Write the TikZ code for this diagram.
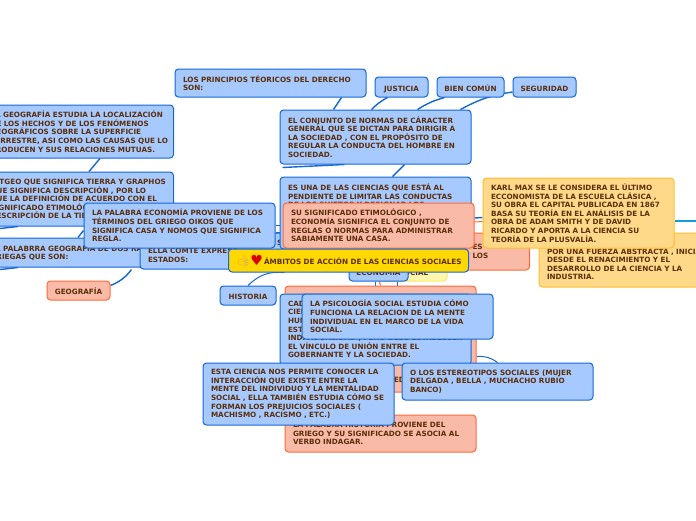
\documentclass[tikz,border=0pt]{standalone}
\usepackage{fontspec}
\setmainfont{DejaVu Sans}
\newfontfamily\emojifont{Noto Emoji}
\usetikzlibrary{backgrounds}
\definecolor{tinta}{HTML}{5C2E0A}
\definecolor{azul}{HTML}{A6CAFF}
\definecolor{azulb}{HTML}{1566D6}
\definecolor{salmon}{HTML}{F9BBA8}
\definecolor{salmonb}{HTML}{FF6A3A}
\definecolor{naranja}{HTML}{FFD98A}
\definecolor{naranjab}{HTML}{FFBE2E}
\definecolor{oro}{HTML}{FFD800}
\definecolor{crema}{HTML}{FFF7AE}
\definecolor{cremab}{HTML}{FFEA5C}
\definecolor{pulgar}{HTML}{E0A860}
\tikzset{
	caja/.style={draw,rounded corners=3.5pt,line width=1pt,anchor=north west,align=left,text=tinta,
		inner sep=0pt,text width=191pt,execute at begin node={\leftskip=8pt\relax},
		font={\fontsize{7.23pt}{8.6pt}\selectfont\bfseries}},
	cajazul/.style={caja,fill=azul,draw=azulb},
	cajasal/.style={caja,fill=salmon,draw=salmonb},
	cajanar/.style={caja,fill=naranja,draw=naranjab},
	corta/.style={text width=#1,text height=8pt,text depth=0pt,align=center,execute at begin node={\leftskip=0pt plus 1fil\rightskip=0pt plus 1fil\relax}},
	enlace/.style={draw=azulb,line width=1.4pt}
}
\begin{document}
\begin{tikzpicture}[x=1pt,y=-1pt]
	\useasboundingbox (1,1) rectangle (697,521);
	% arriba
	\node[cajazul,minimum height=28pt] (principios) at (175.5,69.5) {LOS PRINCIPIOS TÉORICOS DEL DERECHO\\SON:};
	\node[cajazul,corta=53pt,minimum height=20pt] (justicia) at (375.5,77.5) {JUSTICIA};
	\node[cajazul,corta=67pt,minimum height=20pt] (biencomun) at (437.5,77.5) {BIEN COMÚN};
	\node[cajazul,corta=63pt,minimum height=20pt] (seguridad) at (513.5,77.5) {SEGURIDAD};
	\node[cajazul,minimum height=54pt] (conjunto) at (280.5,110.5) {EL CONJUNTO DE NORMAS DE CÁRACTER\\GENERAL QUE SE DICTAN PARA DIRIGIR A\\LA SOCIEDAD , CON EL PROPÓSITO DE\\REGULAR LA CONDUCTA DEL HOMBRE EN\\SOCIEDAD.};
	% izquierda
	\node[cajazul,minimum height=53pt] (geodef) at (-17,105.5) {LA GEOGRAFÍA ESTUDIA LA LOCALIZACIÓN\\DE LOS HECHOS Y DE LOS FENÓMENOS\\GEOGRÁFICOS SOBRE LA SUPERFICIE\\TERRESTRE, ASI COMO LAS CAUSAS QUE LO\\PRODUCEN Y SUS RELACIONES MUTUAS.};
	\node[cajazul,minimum height=54pt] (geoetim) at (-17,172.5) {\hspace*{9pt}TGEO QUE SIGNIFICA TIERRA Y GRAPHOS\\QUE SIGNIFICA DESCRIPCIÓN , POR LO\\QUE LA DEFINICIÓN DE ACUERDO CON EL\\SIGNIFICADO ETIMOLÓGICO\\DESCRIPCIÓN DE LA TIERRA};
	\node[cajazul,minimum height=29pt] (georaices) at (-17,238.5) {LA PALABRRA GEOGRAFÍA DE DOS RAÍCES\\GRIEGAS QUE SON:};
	\node[cajazul,minimum height=36pt] (comte) at (140.5,233.5) {\hspace*{129pt}SO\\ELLA COMTE EXPRESA\\ESTADOS:};
	\node[cajasal,corta=63pt,minimum height=19pt] (geografia) at (47.5,281.5) {GEOGRAFÍA};
	\node[cajazul,minimum height=45pt] (economia) at (84.5,203.5) {LA PALABRA ECONOMÍA PROVIENE DE LOS\\TÉRMINOS DEL GRIEGO OIKOS QUE\\SIGNIFICA CASA Y NOMOS QUE SIGNIFICA\\REGLA.};
	% centro y derecha
	\node[cajazul,minimum height=72pt] (ciencias) at (280.5,177.5) {ES UNA DE LAS CIENCIAS QUE ESTÁ AL\\PENDIENTE DE LIMITAR LAS CONDUCTAS\\DE LOS SUJETOS Y DESIGNAR LOS\\~\\~\\~\\~};
	\node[cajasal,text width=65pt,minimum height=37pt] (salderecha) at (465,233.5) {ES\\LOS};
	\node[cajasal,minimum height=45pt] (etimologia) at (283.5,203.5) {SU SIGNIFICADO ETIMOLÓGICO ,\\ECONOMÍA SIGNIFICA EL CONJUNTO DE\\REGLAS O NORMAS PARA ADMINISTRAR\\SABIAMENTE UNA CASA.};
	\node[cajanar,minimum height=54pt] (abstracta) at (539.5,233.5) {\hspace*{108pt}DIOS\\POR UNA FUERZA ABSTRACTA , INICIA\\DESDE EL RENACIMIENTO Y EL\\DESARROLLO DE LA CIENCIA Y LA\\INDUSTRIA.};
	\node[cajanar,minimum height=70pt] (karl) at (483.5,178.5) {KARL MAX SE LE CONSIDERA EL ÚLTIMO\\ECCONOMISTA DE LA ESCUELA CLÁSICA ,\\SU OBRA EL CAPITAL PUBLICADA EN 1867\\BASA SU TEORÍA EN EL ANÁLISIS DE LA\\OBRA DE ADAM SMITH Y DE DAVID\\RICARDO Y APORTA A LA CIENCIA SU\\TEORÍA DE LA PLUSVALÍA.};
	\node[caja,fill=crema,draw=cremab,corta=67pt,minimum height=20pt] (social) at (380.5,261.5) {SOCIAL};
	\node[cajazul,corta=59pt,minimum height=20pt] (cajaeco) at (349.5,261.5) {ECONOMÍA};
	% abajo
	\node[cajasal,minimum height=106pt] (salabajo) at (285.5,286.5) {~\\~\\~\\~\\~\\~\\~\\~\\~\\~\\\hspace*{101pt}ED};
	\node[cajazul,corta=56pt,minimum height=19pt] (historia) at (220.5,286.5) {HISTORIA};
	\node[cajazul,minimum height=71pt] (gobierno) at (280.5,294.5) {CADA\\CIENCIA\\HUMANA\\ESTA\\INDIVIDUALIDAD , PERO DEBE ESTABLECER\\EL VÍNCULO DE UNIÓN ENTRE EL\\GOBERNANTE Y LA SOCIEDAD.};
	\node[cajazul,minimum height=45pt] (psicologia) at (302.5,294.5) {LA PSICOLOGÍA SOCIAL ESTUDIA CÓMO\\FUNCIONA LA RELACION DE LA MENTE\\INDIVIDUAL EN EL MARCO DE LA VIDA\\SOCIAL.};
	\node[cajasal,minimum height=37pt] (indagar) at (285.5,415.5) {LA PALABRA HISTORIA PROVIENE DEL\\GRIEGO Y SU SIGNIFICADO SE ASOCIA AL\\VERBO INDAGAR.};
	\node[cajazul,minimum height=62pt] (interaccion) at (203.5,363.5) {ESTA CIENCIA NOS PERMITE CONOCER LA\\INTERACCIÓN QUE EXISTE ENTRE LA\\MENTE DEL INDIVIDUO Y LA MENTALIDAD\\SOCIAL , ELLA TAMBIÉN ESTUDIA CÓMO SE\\FORMAN LOS PREJUICIOS SOCIALES (\\MACHISMO , RACISMO , ETC.)};
	\node[cajazul,minimum height=37pt] (estereotipos) at (402.5,363.5) {O LOS ESTEREOTIPOS SOCIALES (MUJER\\DELGADA , BELLA , MUCHACHO RUBIO\\BANCO)};
	% raiz
	\node[cajazul,fill=oro,text width=240pt,execute at begin node={\leftskip=0pt\relax},minimum height=23pt] (ambitos) at (229,249.5) {\hspace*{8pt}{\emojifont\fontsize{11pt}{9pt}\selectfont\color{pulgar}👍}\raisebox{-1.5pt}{\fontsize{14pt}{9pt}\selectfont\color{red!85!black}♥}\hspace{1pt}ÁMBITOS DE ACCIÓN DE LAS CIENCIAS SOCIALES};
	% enlaces
	\begin{scope}[on background layer]
		\draw[enlace] ([xshift=71pt]principios.south) -- ([xshift=-42pt]conjunto.north);
		\draw[enlace] ([xshift=-14pt]justicia.south) to[bend right=8] ([xshift=-4pt]conjunto.north);
		\draw[enlace] ([xshift=-26pt]biencomun.south) to[bend right=8] ([xshift=42pt]conjunto.north);
		\draw[enlace] ([yshift=-5pt]seguridad.west) to[bend right=10] ([xshift=85pt]conjunto.north);
		\draw[enlace] ([xshift=29pt]conjunto.south) -- ([xshift=17pt]ciencias.north);
		\draw[enlace] ([xshift=-93pt,yshift=-3pt]conjunto.south) -- ([xshift=-31pt]conjunto.south);
		\draw[enlace] ([xshift=22pt]geodef.south) -- ([xshift=11pt]geoetim.north);
		\draw[enlace] ([xshift=-78pt,yshift=-2pt]geoetim.south) -- ([xshift=-60pt]geoetim.south);
		\draw[enlace] ([xshift=-78pt,yshift=-2pt]georaices.south) -- ([xshift=-60pt]georaices.south);
		\draw[enlace] (georaices.north) -- ([yshift=-5pt]economia.west);
		\draw[enlace] ([yshift=5pt]geografia.east) to[bend right=15] ([xshift=-104pt]comte.south);
		\draw[enlace,line width=1pt] (historia.north) to[bend left=25] ([xshift=-64pt]ambitos.south);
		\draw[enlace] ([xshift=-3pt]cajaeco.south) -- ([xshift=-3pt,yshift=-14pt]cajaeco.south);
		\draw[enlace] ([xshift=19pt]cajaeco.south) -- ([xshift=19pt,yshift=-14pt]cajaeco.south);
		\draw[draw=salmonb,line width=1pt] ([xshift=-34pt]social.south) -- (salabajo.north);
		\draw[enlace,line width=1pt] ([yshift=-17.5pt]salabajo.east) to[bend left=20] (estereotipos.north);
		\draw[enlace] ([yshift=7.5pt]etimologia.east) -- ([yshift=-4.5pt]karl.west);
		\draw[draw=salmonb,line width=1pt] ([yshift=3.5pt]etimologia.east) -- ([yshift=-8.5pt]karl.west);
		\coordinate (fuera) at (698,222);
		\draw[draw=cyan!70!azulb,line width=1.4pt] ([yshift=-8pt]karl.east) -- (fuera);
		\draw[enlace,line width=1pt] (economia.east) -- ([xshift=1pt]etimologia.west);
		\draw[enlace,line width=1pt] ([yshift=-6.5pt]economia.east) -- ([xshift=1pt,yshift=-6.5pt]etimologia.west);
	\end{scope}
\end{tikzpicture}
\end{document}
